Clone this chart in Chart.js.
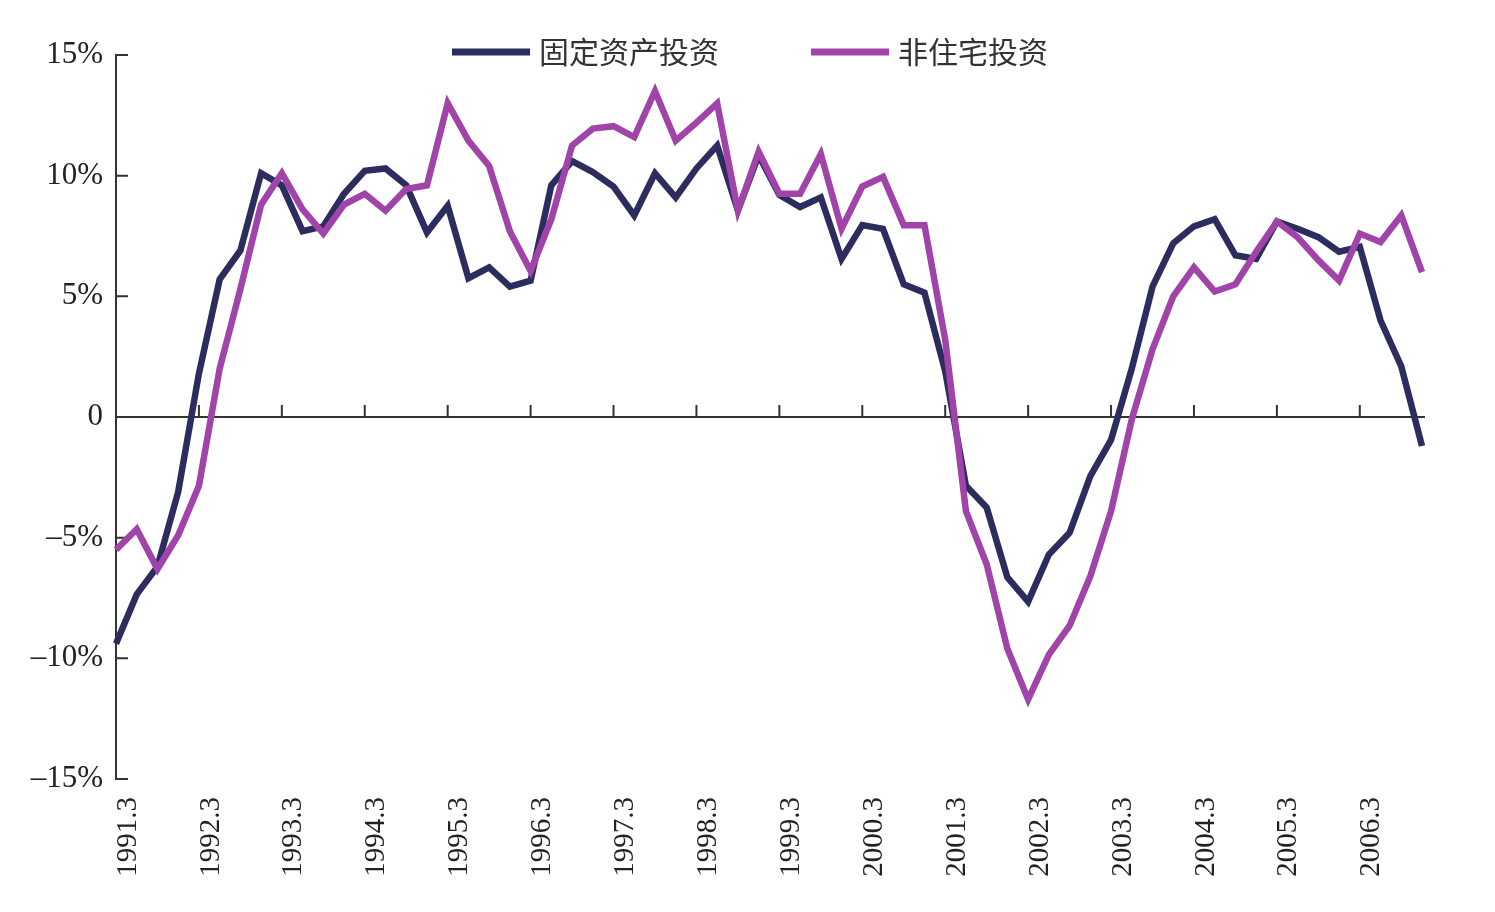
<!DOCTYPE html>
<html>
<head>
<meta charset="utf-8">
<script src="https://cdn.jsdelivr.net/npm/chart.js@4.4.0/dist/chart.umd.min.js"></script>
<style>
  html, body { margin: 0; padding: 0; background: #fff; }
</style>
</head>
<body>
<canvas id="chart" width="1495" height="912"></canvas>
<script>
// quarters 1991.3 .. 2006.12
const years = [1991, 1992, 1993, 1994, 1995, 1996, 1997, 1998, 1999, 2000, 2001, 2002, 2003, 2004, 2005, 2006];
const months = [3, 6, 9, 12];
const quarters = [];
years.forEach(y => months.forEach(m => quarters.push(y + "." + m)));

const tickLabels = ["1991.3", "1992.3", "1993.3", "1994.3", "1995.3", "1996.3", "1997.3", "1998.3",
  "1999.3", "2000.3", "2001.3", "2002.3", "2003.3", "2004.3", "2005.3", "2006.3"];

const seriesNames = ["固定资产投资", "非住宅投资"];

// 固定资产投资 (%)
const fixedInvest = [
  -9.4, -7.35, -6.2, -3.1,
  1.8, 5.7, 6.9, 10.1,
  9.6, 7.7, 7.9, 9.25,
  10.2, 10.3, 9.6, 7.65,
  8.75, 5.75, 6.2, 5.4,
  5.65, 9.6, 10.6, 10.15,
  9.55, 8.35, 10.1, 9.1,
  10.3, 11.25, 8.55, 10.85,
  9.2, 8.7, 9.1, 6.55,
  7.95, 7.8, 5.5, 5.15,
  1.9, -2.85, -3.75, -6.65,
  -7.65, -5.7, -4.8, -2.45,
  -0.95, 2.0, 5.4, 7.2,
  7.9, 8.2, 6.7, 6.55,
  8.1, 7.8, 7.45, 6.85,
  7.05, 4.0, 2.1, -1.2
];

// 非住宅投资 (%)
const nonResInvest = [
  -5.5, -4.65, -6.3, -4.9,
  -2.85, 2.0, 5.3, 8.8,
  10.1, 8.6, 7.6, 8.8,
  9.25, 8.55, 9.45, 9.6,
  13.0, 11.45, 10.4, 7.7,
  6.05, 8.2, 11.25, 11.95,
  12.05, 11.6, 13.5, 11.45,
  12.2, 13.0, 8.55, 11.0,
  9.25, 9.25, 10.9, 7.8,
  9.55, 9.95, 7.95, 7.95,
  3.2, -3.9, -6.1, -9.6,
  -11.7, -9.85, -8.65, -6.6,
  -3.9, -0.1, 2.8, 5.0,
  6.2, 5.2, 5.5, 6.85,
  8.1, 7.45, 6.5, 5.65,
  7.6, 7.25, 8.35, 6.0
];

const yTicks = [-15, -10, -5, 0, 5, 10, 15];

const navy = "#2d2c5e";
const purple = "#a044aa";
const axisColor = "#333";
const numFont = "'Liberation Serif', 'Times New Roman', serif";

// zero line with year ticks, inner ticks on the y axis
const axisMarks = {
  id: "axisMarks",
  beforeDatasetsDraw(chart) {
    const ctx = chart.ctx;
    const x = chart.scales.x;
    const y = chart.scales.y;
    const area = chart.chartArea;
    const y0 = y.getPixelForValue(0);
    ctx.save();
    ctx.strokeStyle = axisColor;
    ctx.lineWidth = 2;
    ctx.beginPath();
    ctx.moveTo(area.left, y0);
    ctx.lineTo(area.right + 3, y0);
    quarters.forEach((q, i) => {
      if (i > 0 && tickLabels.includes(q)) {
        const px = x.getPixelForValue(i);
        ctx.moveTo(px, y0);
        ctx.lineTo(px, y0 - 12);
      }
    });
    yTicks.forEach(v => {
      if (v === 0) return;
      const py = y.getPixelForValue(v);
      ctx.moveTo(area.left, py);
      ctx.lineTo(area.left + 12, py);
    });
    ctx.stroke();
    ctx.restore();
  }
};

// legend inside the top of the plot
const topLegend = {
  id: "topLegend",
  afterDraw(chart) {
    const ctx = chart.ctx;
    const colors = [navy, purple];
    const sampleW = 78, gap = 9, itemGap = 92;
    ctx.save();
    ctx.font = "30px 'Noto Sans CJK SC'";
    ctx.textBaseline = "middle";
    const widths = seriesNames.map(n => ctx.measureText(n).width);
    let total = 0;
    widths.forEach((w, i) => { total += sampleW + gap + w + (i > 0 ? itemGap : 0); });
    let cx = 750 - total / 2;
    const cy = 52;
    seriesNames.forEach((name, i) => {
      ctx.strokeStyle = colors[i];
      ctx.lineWidth = 7;
      ctx.beginPath();
      ctx.moveTo(cx, cy);
      ctx.lineTo(cx + sampleW, cy);
      ctx.stroke();
      ctx.fillStyle = "#333";
      ctx.fillText(name, cx + sampleW + gap, cy);
      cx += sampleW + gap + widths[i] + itemGap;
    });
    ctx.restore();
  }
};

new Chart(document.getElementById("chart"), {
  type: "line",
  data: {
    labels: quarters,
    datasets: [
      {
        label: seriesNames[0],
        data: fixedInvest,
        borderColor: navy,
        borderWidth: 6.5,
        pointRadius: 0,
        tension: 0,
        order: 1
      },
      {
        label: seriesNames[1],
        data: nonResInvest,
        borderColor: purple,
        borderWidth: 6.5,
        pointRadius: 0,
        tension: 0,
        order: 0
      }
    ]
  },
  options: {
    responsive: false,
    animation: false,
    devicePixelRatio: 1,
    layout: { padding: { top: 55, right: 73, left: 0, bottom: 0 } },
    plugins: {
      legend: { display: false },
      tooltip: { enabled: false }
    },
    scales: {
      x: {
        type: "category",
        offset: false,
        grid: { display: false, drawTicks: false },
        border: { display: false },
        ticks: {
          autoSkip: false,
          minRotation: 90,
          maxRotation: 90,
          padding: 18,
          labelOffset: 12,
          color: "#222",
          font: { family: numFont, size: 29 },
          callback: function (val, i) {
            return tickLabels.includes(quarters[i]) ? quarters[i] : "";
          }
        },
        afterFit: function (scale) { scale.height = 133; }
      },
      y: {
        min: -15,
        max: 15,
        grid: { display: false, drawTicks: false },
        border: { display: true, color: axisColor, width: 2 },
        ticks: {
          stepSize: 5,
          padding: 13,
          color: "#222",
          font: { family: numFont, size: 31 },
          callback: function (v) {
            if (v === 0) return "0";
            return (v < 0 ? "\u2013" + Math.abs(v) : v) + "%";
          }
        },
        afterFit: function (scale) { scale.width = 116; }
      }
    }
  },
  plugins: [axisMarks, topLegend]
});
</script>
</body>
</html>
